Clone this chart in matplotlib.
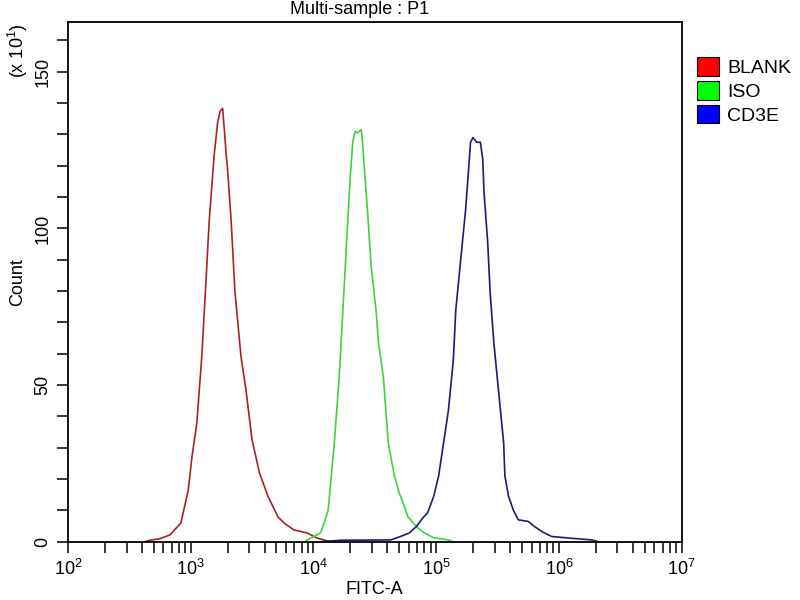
import numpy as np
import matplotlib
matplotlib.use("Agg")
import matplotlib.pyplot as plt
from matplotlib.patches import Patch
from matplotlib.ticker import FixedLocator, MultipleLocator, LogLocator, NullFormatter

plt.rcParams['font.family'] = ['Liberation Sans', 'DejaVu Sans']
plt.rcParams['mathtext.fontset'] = 'custom'
plt.rcParams['mathtext.rm'] = 'Liberation Sans'
plt.rcParams['mathtext.it'] = 'Liberation Sans'
plt.rcParams['mathtext.bf'] = 'Liberation Sans'

# histogram outlines: x as log10(FITC-A), y as count (x10^1)
blank_log = [2.62, 2.67, 2.75, 2.83, 2.92, 2.98, 3.01, 3.05, 3.09, 3.12, 3.15,
             3.19, 3.22, 3.24, 3.26, 3.275, 3.29, 3.30, 3.33, 3.36, 3.41, 3.45,
             3.50, 3.56, 3.63, 3.71, 3.76, 3.84, 3.95, 4.03, 4.14]
blank_cnt = [0, 0.5, 1, 2.2, 6, 16.5, 27, 38, 59, 80, 102, 123, 134, 137.4,
             138.3, 131, 123, 119, 102, 80, 59, 48.5, 32.5, 22, 14.5, 8, 6,
             3.8, 2.8, 1.2, 0]

iso_log = [3.93, 3.95, 4.06, 4.12, 4.17, 4.21, 4.24, 4.27, 4.30, 4.32, 4.34,
           4.36, 4.39, 4.40, 4.42, 4.44, 4.47, 4.51, 4.53, 4.57, 4.59, 4.61,
           4.66, 4.70, 4.73, 4.77, 4.84, 4.90, 4.98, 5.10, 5.14]
iso_cnt = [0, 0.6, 2.9, 10, 31.5, 52.5, 74, 95.5, 116.5, 127.5, 131, 130.5,
           131.5, 127.5, 116.5, 106, 88, 74, 63.5, 52.5, 42, 31.5, 21, 15.5,
           12.5, 8, 4.8, 2.9, 1.3, 0.6, 0]

cd3e_log = [4.05, 4.22, 4.63, 4.71, 4.78, 4.84, 4.89, 4.93, 4.98, 5.02, 5.06,
            5.10, 5.14, 5.16, 5.20, 5.24, 5.26, 5.28, 5.30, 5.33, 5.36, 5.38,
            5.39, 5.42, 5.44, 5.47, 5.51, 5.55, 5.56, 5.59, 5.63, 5.67, 5.75,
            5.80, 5.86, 5.94, 6.08, 6.27, 6.32]
cd3e_cnt = [0, 0.5, 0.6, 1.7, 2.8, 4.9, 7.6, 9.2, 14.5, 21, 31.5, 42, 58, 74,
            90, 106, 116.5, 127.5, 129, 127.5, 127.5, 122, 111.5, 95.5, 79.5,
            63.5, 47.5, 31.5, 21, 14.5, 10, 7, 6.5, 4.9, 3.3, 1.7, 1.2, 0.6, 0]

labels = ['BLANK', 'ISO', 'CD3E']
line_colors = ['#a8202c', '#3fd23f', '#1c1c72']
patch_colors = ['#ff0000', '#00ff00', '#0000ff']
decades = [2, 3, 4, 5, 6, 7]
y_major = [0, 50, 100, 150]

fig = plt.figure(figsize=(8, 6), dpi=100)
ax = fig.add_axes([0.085, 0.097, 0.767, 0.867])

for lx, cnt, col in zip([blank_log, iso_log, cd3e_log],
                        [blank_cnt, iso_cnt, cd3e_cnt], line_colors):
    ax.plot(10 ** np.array(lx), cnt, color=col, lw=1.2)

ax.set_xscale('log')
ax.set_xlim(10 ** decades[0], 10 ** decades[-1])
ax.set_ylim(0, 166)

ax.xaxis.set_major_locator(FixedLocator([10 ** d for d in decades]))
ax.set_xticklabels(['10$^{%d}$' % d for d in decades])
ax.xaxis.set_minor_locator(LogLocator(base=10, subs=np.arange(2, 10)))
ax.xaxis.set_minor_formatter(NullFormatter())
ax.yaxis.set_major_locator(FixedLocator(y_major))
ax.set_yticklabels([str(v) for v in y_major], rotation=90, va='center')
ax.yaxis.set_minor_locator(MultipleLocator(10))

ax.tick_params(which='both', direction='out', length=8, width=1.1,
               color='black', labelsize=13, pad=4)
for sp in ax.spines.values():
    sp.set_linewidth(1.3)

ax.set_xlabel('FITC-A', fontsize=13, labelpad=2)
ax.set_ylabel('Count', fontsize=13, labelpad=6)
fig.text(0.449, 0.985, 'Multi-sample : P1', ha='center', va='center', fontsize=13)
fig.text(0.022, 0.915, '(x 10$^{1}$)', rotation=90, ha='center', va='center',
         fontsize=13)

handles = [Patch(facecolor=c, edgecolor='black', lw=0.8) for c in patch_colors]
fig.legend(handles, labels, loc='upper left', bbox_to_anchor=(0.871, 0.905),
           frameon=False, fontsize=14, handlelength=1.15, handleheight=1.1,
           handletextpad=0.4, labelspacing=0.2, borderaxespad=0, borderpad=0)

fig.savefig('out.png', dpi=100)
